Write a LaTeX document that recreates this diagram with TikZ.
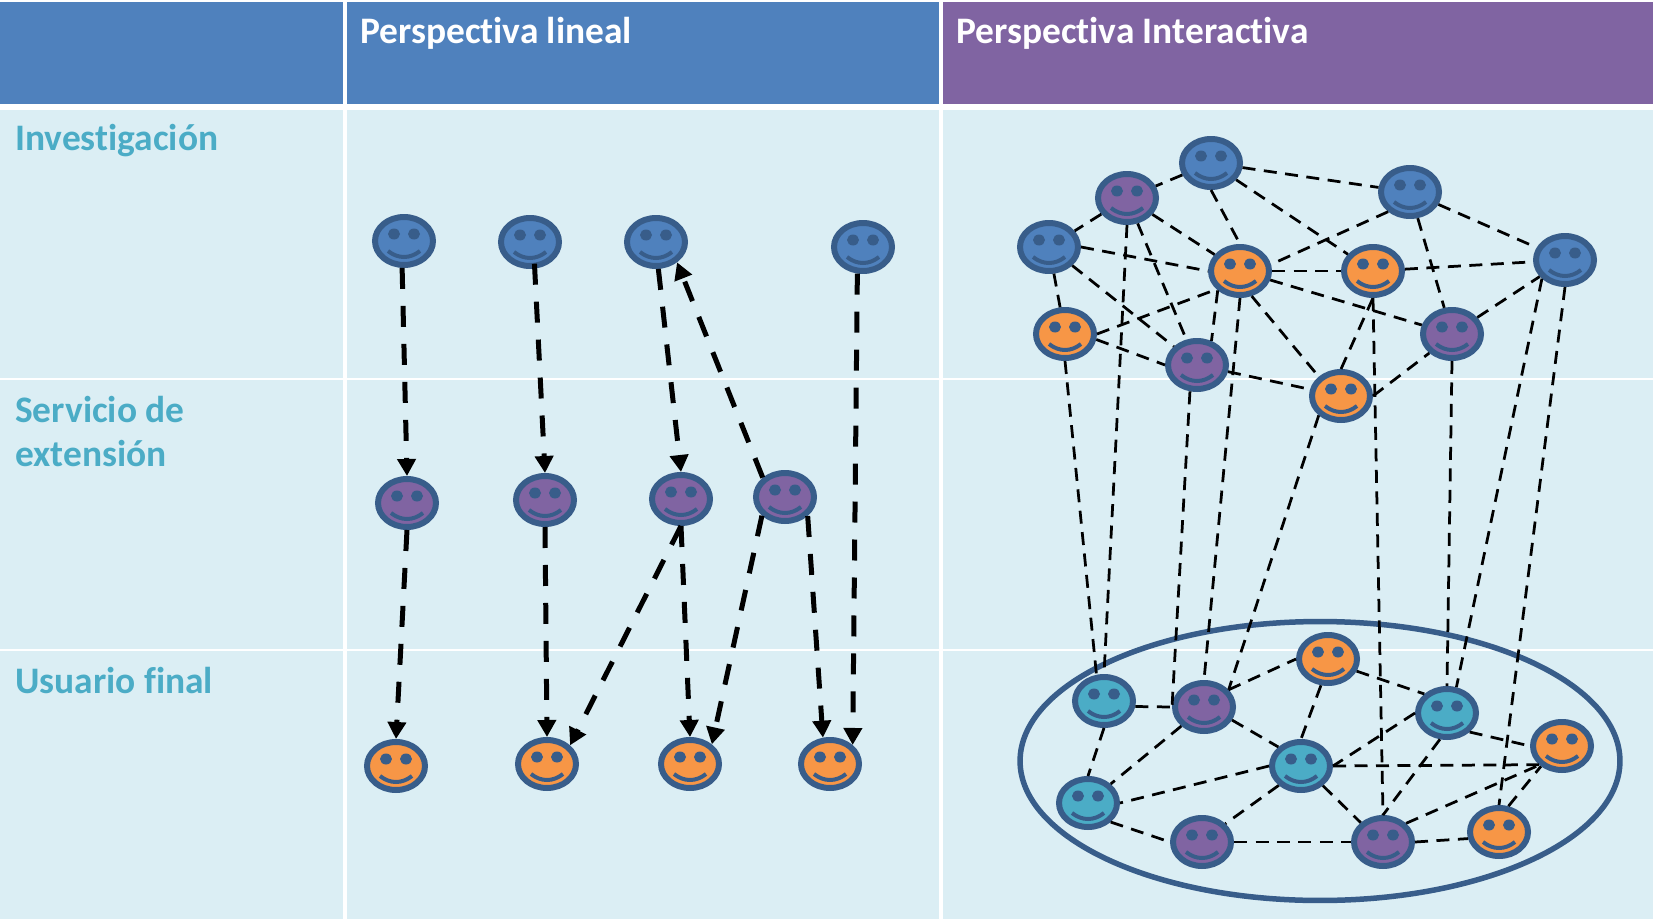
\documentclass[tikz,border=0pt]{standalone}
\usepackage{fontspec}
\setmainfont[Ligatures=NoCommon]{Carlito}
\usetikzlibrary{arrows.meta,shapes.geometric}
\definecolor{cellbg}{HTML}{DBEEF4}
\definecolor{rim}{HTML}{385D8A}
\definecolor{blueface}{HTML}{4F81BD}
\definecolor{purpleface}{HTML}{8064A2}
\definecolor{orangeface}{HTML}{F79646}
\definecolor{tealface}{HTML}{4BACC6}
\tikzset{
  face/.style={ellipse,draw=rim,line width=.12cm,minimum width=1.16cm,minimum height=.96cm,inner sep=0pt},
  headtext/.style={anchor=base west,text=white,font=\bfseries\fontsize{21.3}{24}\selectfont},
  rowtext/.style={anchor=base west,text=tealface,font=\bfseries\fontsize{21.3}{24}\selectfont},
  arrowline/.style={line width=.1cm,dash pattern=on .42cm off .34cm,-{Triangle[length=.34cm,width=.36cm]}},
  linkline/.style={line width=.055cm,dash pattern=on .26cm off .17cm},
  gridline/.style={white,line width=.08cm}
}
\newcommand{\smiley}[4]{
  \node[face,fill=#4] (#1) at (#2,#3) {};
  \fill[rim] ([shift={(-10,-7)}]#1.center) circle[x radius=.12cm,y radius=.11cm];
  \fill[rim] ([shift={(10,-7)}]#1.center) circle[x radius=.12cm,y radius=.11cm];
  \draw[rim,line width=.08cm] ([shift={(-16,10)}]#1.center) .. controls ([shift={(-6,18)}]#1.center) and ([shift={(6,18)}]#1.center) .. ([shift={(16,10)}]#1.center);
}
\begin{document}
\begin{tikzpicture}[x=.02cm,y=-.02cm]
\useasboundingbox (0,0) rectangle (1653,919);
\fill[white] (0,0) rectangle (1653,919);
% table
\fill[cellbg] (0,110) rectangle (1653,919);
\fill[blueface] (0,2) rectangle (941,104);
\fill[purpleface] (941,2) rectangle (1653,104);
\draw[gridline] (345,0) -- (345,919);
\draw[gridline] (941,0) -- (941,919);
\draw[gridline,line width=.05cm] (0,379) -- (1653,379);
\draw[gridline,line width=.05cm] (0,650) -- (1653,650);
\node[headtext] (linealhead) at (354,44) {Perspectiva lineal};
\node[headtext] (interhead) at (950,44) {Perspectiva Interactiva};
\node[rowtext] (rowinv) at (9,151) {Investigación};
\node[rowtext] (rowserv) at (9,422) {Servicio de};
\node[rowtext] (rowext) at (9,466) {extensión};
\node[rowtext] (rowuser) at (9,693) {Usuario final};
% users circle
\node[ellipse,draw=rim,line width=.11cm,minimum width=12cm,minimum height=5.58cm,inner sep=0pt] (users) at (1320,761) {};
% lineal faces
\foreach \name/\x/\y/\col in {a1/404/241/blueface,a2/530/242/blueface,a3/656/242/blueface,a4/863/247/blueface,
  b1/407/503/purpleface,b2/545/500/purpleface,b3/681/499/purpleface,b4/785/497/purpleface,
  c1/396/766/orangeface,c2/547/764/orangeface,c3/690/764/orangeface,c4/830/764/orangeface}
  \smiley{\name}{\x}{\y}{\col};
\draw[arrowline] (a1.266) -- (b1.north);
\draw[arrowline,shorten <=-.1cm] (a2.280) -- (b2.north);
\draw[arrowline] (a3.275) -- (b3.north);
\draw[arrowline] (b4.139) -- (a3.316);
\draw[arrowline] (a4.258) -- (c4.40);
\draw[arrowline] (b1.south) -- (c1.north);
\draw[arrowline] (b2.south) -- (c2.north);
\draw[arrowline] (b3.south) -- (c2.39);
\draw[arrowline] (b3.south) -- (c3.north);
\draw[arrowline] (b4.219) -- (c3.42);
\draw[arrowline] (b4.320) -- (c4.105);
% interactive faces
\foreach \name/\x/\y/\col in {t1/1211/163/blueface,t2/1127/198/purpleface,t3/1410/192/blueface,t4/1049/247/blueface,
  t5/1240/271/orangeface,t6/1373/271/orangeface,t7/1565/260/blueface,t8/1065/334/orangeface,
  t9/1197/365/purpleface,t10/1452/334/purpleface,t11/1341/396/orangeface,
  u1/1104/701/tealface,u2/1204/707/purpleface,u3/1328/659/orangeface,u4/1447/713/tealface,
  u5/1562/746/orangeface,u6/1301/766/tealface,u7/1088/803/tealface,u8/1202/842/purpleface,
  u9/1383/842/purpleface,u10/1499/832/orangeface}
  \smiley{\name}{\x}{\y}{\col};
\foreach \from/\to in {t1/t2,t1/t3,t1.270/t5.north,t1/t6,t2/t4,t2/t5,t2/t9,t3.222/t5.12,t3/t7,t3/t10,t4.east/t5.west,t4/t8,t4/t9,
  t5/t6,t6/t7,t8.east/t5.218,t5.221/t9.59,t5/t10,t5.295/t11.139,t8.350/t9.west,t9/t11,t11.east/t10.220,t10/t7,t11.north/t6.south,
  u1.350/u2.west,u1.south/u7.north,u2.35/u3.west,u2.335/u6.140,u2.220/u7.40,u3.255/u6.north,u3.337/u4.140,u4.west/u6.east,u4.320/u5.west,u4.255/u9.north,u6.east/u5.219,u6.west/u7.east,u6.221/u8.38,u6.318/u9.139,
  u7.320/u8.west,u8.east/u9.west,u9.east/u10.192,u9.39/u5.220,u10.70/u5.224}
  \draw[linkline] (\from) -- (\to);
% links between levels
\draw[linkline] (t8.south) -- (u1.106);
\draw[linkline] (t2.south) -- (u1.north);
\draw[linkline] (t9.255) -- (u2.west);
\draw[linkline] (t5.south) -- (u2.north);
\draw[linkline] (t11.221) -- (u2.35);
\draw[linkline] (t6.south) -- (u9.north);
\draw[linkline] (t10.south) -- (u4.north);
\draw[linkline] (t7.219) -- (u4.70);
\draw[linkline] (t7.south) -- (u10.north);
\end{tikzpicture}
\end{document}
